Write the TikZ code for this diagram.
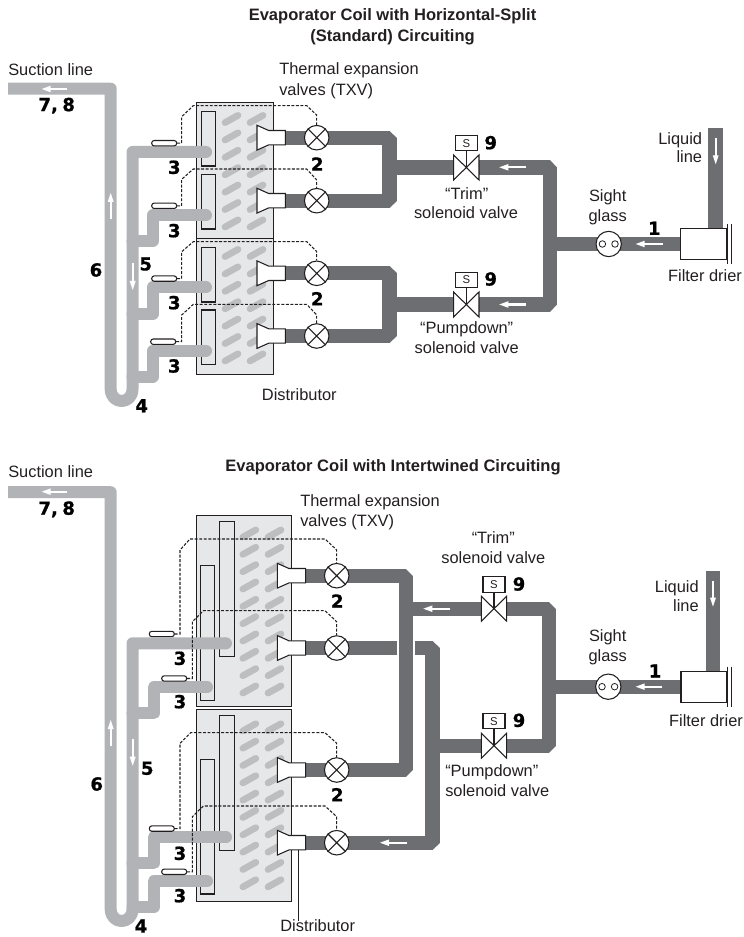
\documentclass[tikz,border=0pt]{standalone}
\usepackage{fontspec}
\setmainfont{Liberation Sans}
\newfontfamily\numfont[BoldFeatures={FakeBold=0.8}]{DejaVu Sans}
\usetikzlibrary{calc}
\definecolor{ink}{HTML}{231F20}
\definecolor{coilgray}{HTML}{E6E7E8}
\definecolor{fingray}{HTML}{BCBEC0}
\definecolor{suctgray}{HTML}{B1B3B6}
\definecolor{liqgray}{HTML}{6D6E71}
\tikzset{
  thinline/.style={draw=ink,line width=0.8pt},
  coil/.style={draw=ink,line width=0.7pt,fill=coilgray},
  header/.style={thinline,fill=coilgray},
  fin/.style={draw=fingray,line width=5pt,line cap=round},
  suct/.style={draw=suctgray,line width=9pt,line join=round},
  suctend/.style={suct,line cap=round},
  liq/.style={draw=liqgray,line width=10.7pt,line join=bevel},
  flowarrow/.style={draw=white,line width=1.7pt},
  flowhead/.style={fill=white},
  capillary/.style={draw=ink,dash pattern=on 2.2pt off 1.2pt,line width=0.8pt},
  lbl/.style={inner sep=0pt,text=ink,font=\fontsize{12.3pt}{14pt}\selectfont,text height=.72em,text depth=.2em},
  ttl/.style={inner sep=0pt,text=ink,font=\bfseries\fontsize{12.4pt}{14pt}\selectfont},
  num/.style={inner sep=0pt,text=black,font=\numfont\bfseries\fontsize{13.5pt}{14pt}\selectfont},
  bulb/.style={draw=ink,fill=white,line width=0.8pt,rounded corners=1.8pt,minimum width=18.7pt,minimum height=4pt,inner sep=0pt},
  valvec/.style={circle,draw=ink,fill=white,line width=0.8pt,minimum size=18.4pt,inner sep=0pt},
  sightc/.style={circle,draw=ink,fill=white,line width=0.8pt,minimum size=19pt,inner sep=0pt},
  eye/.style={circle,draw=ink,line width=0.6pt,minimum size=4.9pt,inner sep=0pt},
  sbox/.style={draw=ink,fill=white,line width=0.8pt,minimum width=16.5pt,minimum height=11.5pt,inner sep=0pt,text=ink,font=\fontsize{8.5pt}{9pt}\selectfont},
  filt/.style={draw=ink,fill=white,line width=0.8pt,minimum width=34.2pt,minimum height=22.9pt,inner sep=0pt}
}
% TXV valve: name, x, y
\newcommand\txv[3]{\node[valvec] (#1) at (#2,#3) {};
  \draw[thinline] (#1.45)--(#1.225) (#1.135)--(#1.315);}
% distributor: flare x, y
\newcommand\distr[2]{\begin{scope}[shift={(#1,#2)}]
  \draw[thinline,fill=white] (0,-12.4)--(11.7,-7.2)--(28.3,-7.2)--(28.3,7.2)--(11.7,7.2)--(0,12.4)--cycle;
  \end{scope}}
% solenoid: name, x, y, box y
\newcommand\sol[4]{\node[sbox] (#1box) at (#2,#4) {S};
  \coordinate (#1) at (#2,#3);
  \begin{scope}[shift={(#2,#3)}]
  \fill[white] (-12.7,-7.6) rectangle (12.7,7.6);
  \draw[thinline] (-12.7,-12.5)--(-12.7,12.5)--(12.7,-12.5)--(12.7,12.5)--cycle;
  \end{scope}
  \draw[thinline] (#1box.south)--(#1);}
% flow arrows
\newcommand\flowH[3]{\draw[flowarrow] (#1,#3)--(#2+6,#3);
  \fill[flowhead] (#2,#3)--(#2+9,#3-3.3)--(#2+9,#3+3.3)--cycle;}
\newcommand\flowV[3]{\draw[flowarrow] (#1,#2)--(#1,#3+6);
  \fill[flowhead] (#1,#3)--(#1-3,#3+9)--(#1+3,#3+9)--cycle;}
\newcommand\flowD[3]{\draw[flowarrow] (#1,#2)--(#1,#3-6);
  \fill[flowhead] (#1,#3)--(#1-3,#3-9)--(#1+3,#3-9)--cycle;}
\begin{document}
\begin{tikzpicture}[x=0.75pt,y=-0.75pt]
\useasboundingbox (0,0) rectangle (743,937);
% ===== titles
\node[ttl] (t1) at (392.5,16.5) {Evaporator Coil with Horizontal-Split};
\node[ttl] (t2) at (392.5,37.5) {(Standard) Circuiting};
\node[ttl] (t3) at (393,467) {Evaporator Coil with Intertwined Circuiting};

% ===== TOP DIAGRAM
\draw[coil] (196.3,102) rectangle (273.3,238);
\draw[coil] (196.3,238) rectangle (273.3,374);
\foreach \y in {119,136.4,...,224}{
  \draw[fin] (225,\y+3.6)--(238,\y-3.6);
  \draw[fin] (250,\y+3.6)--(263,\y-3.6);}
\foreach \y in {253,270.4,...,358}{
  \draw[fin] (225,\y+3.6)--(238,\y-3.6);
  \draw[fin] (250,\y+3.6)--(263,\y-3.6);}
\draw[header] (201.3,111.3) rectangle (215.7,166);
\draw[header] (201.3,174.3) rectangle (215.7,229);
\draw[header] (201.3,247.3) rectangle (215.7,302);
\draw[header] (201.3,310) rectangle (215.7,364.7);
% suction piping
\draw[suct] (8,88.7)--(110.7,88.7)--(110.7,389) .. controls (110.7,405) and (132.5,405) .. (132.5,389)--(132.5,152)--(206,152);
\fill[suctgray] (206,152) circle (6);
\draw[suctend] (132.5,241)--(152.7,241)--(152.7,215.5)--(206,215.5);
\draw[suctend] (132.5,314)--(152.7,314)--(152.7,287.5)--(206,287.5);
\draw[suctend] (132.5,376.7)--(152.7,376.7)--(152.7,350.7)--(206,350.7);
% liquid piping
\coordinate (sjA) at (397,167.5);
\coordinate (sjB) at (397,304.5);
\coordinate (mainT) at (549.8,244);
\draw[liq] (285,137.7)--(389.5,137.7)--(389.5,200.7)--(285,200.7);
\draw[liq] (285,273.3)--(389.5,273.3)--(389.5,336)--(285,336);
\draw[liq] (sjA)--(549.8,167.5)--(549.8,304.5)--(sjB);
\draw[liq] (mainT)--(681,244);
\draw[liq] (715.5,128)--(715.5,229);
% distributors and valves
\distr{257}{137.7}\distr{257}{200.7}\distr{257}{273.3}\distr{257}{336}
\txv{va}{316.7}{137.7}\txv{vb}{316.7}{200.7}\txv{vc}{316.7}{273.3}\txv{vd}{316.7}{336}
% bulbs
\node[bulb] (ba) at (164.2,143.2) {};
\node[bulb] (bb) at (164.2,205.8) {};
\node[bulb] (bc) at (164.2,278.6) {};
\node[bulb] (bd) at (163.2,341.7) {};
% capillaries
\draw[capillary] (ba.east)--(181.7,143.2)--(181.7,116.7)--(193.3,105.7)--(306.7,105.7)--(316.7,115)--(va.north);
\draw[capillary] (bb.east)--(181.7,205.8)--(181.7,179.3)--(193.3,169)--(306.7,169)--(316.7,180)--(vb.north);
\draw[capillary] (bc.east)--(181.7,278.6)--(181.7,251.7)--(193.3,241.7)--(306.7,241.7)--(316.7,251.7)--(vc.north);
\draw[capillary] (bd.east)--(181.7,341.7)--(181.7,315)--(193.3,304.3)--(306.7,304.3)--(316.7,315)--(vd.north);
% solenoids
\sol{sa}{466.3}{167.5}{143.2}
\sol{sb}{466.3}{304.5}{280}
% sight glass
\node[sightc] (sg1) at (608.7,244) {};
\node[eye] (e1) at (602.4,244) {};
\node[eye] (e2) at (615,244) {};
% filter drier
\node[filt] (f1) at (703.3,244) {};
\draw[thinline] (727.7,224)--(727.7,264) (731.7,224)--(731.7,264);
% arrows
\flowH{66.7}{41.7}{89}
\flowV{110.7}{219}{193}
\flowD{132.7}{263}{290}
\flowH{525.7}{499.3}{167.3}
\flowH{525.7}{499.3}{304.5}
\flowH{663}{635.7}{244}
\flowD{715.7}{137.7}{164.3}
% labels
\node[lbl,anchor=west] (l1) at (8,71.7) {Suction line};
\node[lbl,anchor=west] (l2) at (279,71.5) {Thermal expansion};
\node[lbl,anchor=west] (l3) at (279,92) {valves (TXV)};
\node[lbl] (l4) at (299.3,396.7) {Distributor};
\node[lbl] (l5) at (466.7,195.7) {“Trim”};
\node[lbl] (l6) at (466,215.3) {solenoid valve};
\node[lbl] (l7) at (466.7,330) {“Pumpdown”};
\node[lbl] (l8) at (466.7,350) {solenoid valve};
\node[lbl] (l9) at (607.7,197.7) {Sight};
\node[lbl] (l10) at (607.7,217.7) {glass};
\node[lbl,anchor=east] (l11) at (702.3,140.7) {Liquid};
\node[lbl,anchor=east] (l12) at (702.3,159.5) {line};
\node[lbl] (l13) at (705,278.3) {Filter drier};
\node[num] (n1) at (56.7,105.7) {\spaceskip=.25em 7, 8};
\node[num] (n2) at (174.3,167.3) {3};
\node[num] (n3) at (174.3,230.7) {3};
\node[num] (n4) at (174.3,302.7) {3};
\node[num] (n5) at (174.3,366) {3};
\node[num] (n6) at (317.3,164) {2};
\node[num] (n7) at (317.3,298.7) {2};
\node[num] (n8) at (145.7,264) {5};
\node[num] (n9) at (96,270) {6};
\node[num] (n10) at (141.7,405.7) {4};
\node[num] (n11) at (490.7,142.7) {9};
\node[num] (n12) at (490.7,279) {9};
\node[num] (n13) at (654.3,228.3) {1};

% ===== BOTTOM DIAGRAM
\draw[coil] (196.3,515) rectangle (291.7,706.7);
\draw[coil] (196.3,709.3) rectangle (291.7,901);
\foreach \y in {533.5,550.83,...,692}{
  \draw[fin] (242.8,\y+3.6)--(255.8,\y-3.6);
  \draw[fin] (268,\y+3.6)--(281,\y-3.6);}
\foreach \y in {727.3,744.63,...,885}{
  \draw[fin] (242.8,\y+3.6)--(255.8,\y-3.6);
  \draw[fin] (268,\y+3.6)--(281,\y-3.6);}
\draw[header] (200.3,565.3) rectangle (214.7,700.3);
\draw[header] (219.7,521.3) rectangle (234.3,656.3);
\draw[header] (200.3,759.3) rectangle (214.7,894);
\draw[header] (219.7,715.7) rectangle (234.3,850.3);
% suction piping
\draw[suct] (8,492.2)--(110.7,492.2)--(110.7,909) .. controls (110.7,925) and (132.5,925) .. (132.5,909)--(132.5,643.3)--(226,643.3);
\fill[suctgray] (226,643.3) circle (6);
\draw[suctend] (132.5,713.3)--(153.7,713.3)--(153.7,687.3)--(207,687.3);
\draw[suctend] (132.5,863.3)--(153.7,863.3)--(153.7,837.3)--(226,837.3);
\draw[suctend] (132.5,907.2)--(153.7,907.2)--(153.7,881.2)--(207,881.2);
% liquid piping
\coordinate (sjC) at (406,608.7);
\coordinate (sjD) at (432.5,745.7);
\coordinate (mainU) at (549.3,686.7);
\draw[liq] (305,575.7)--(406,575.7)--(406,770)--(305,770);
\draw[liq] (305,648)--(396.7,648);
\draw[liq] (415,648)--(432.5,648)--(432.5,842.7)--(305,842.7);
\draw[liq] (sjC)--(549.3,608.7)--(549.3,745.7)--(sjD);
\draw[liq] (mainU)--(681,686.7);
\draw[liq] (713.3,571)--(713.3,672);
% distributors and valves
\distr{277.3}{575.7}\distr{277.3}{648}\distr{277.3}{770}\distr{277.3}{842.7}
\txv{ve}{336.7}{575.7}\txv{vf}{336.7}{648}\txv{vg}{336.7}{770}\txv{vh}{336.7}{842.7}
% bulbs
\node[bulb] (be) at (161.8,634) {};
\node[bulb] (bf) at (174.2,678.5) {};
\node[bulb] (bg) at (161.8,828.6) {};
\node[bulb] (bh) at (174.2,871.8) {};
% capillaries
\draw[capillary] (be.east)--(180,634)--(180,550)--(190,539)--(325,539)--(336.7,550)--(ve.north);
\draw[capillary] (bf.east)--(192.3,678.5)--(192.3,621.7)--(203.3,610.7)--(325,610.7)--(336.7,621.7)--(vf.north);
\draw[capillary] (bg.east)--(180,828.6)--(180,743.3)--(190.7,732.7)--(325,732.7)--(336.7,743.3)--(vg.north);
\draw[capillary] (bh.east)--(192.3,871.8)--(192.3,816.7)--(203.3,806)--(325,806)--(336.7,816.7)--(vh.north);
% solenoids
\sol{sc}{494}{608.7}{584.5}
\sol{sd}{494}{745.7}{721.2}
% sight glass
\node[sightc] (sg2) at (608.3,686.7) {};
\node[eye] (e3) at (602,686.7) {};
\node[eye] (e4) at (614.6,686.7) {};
% filter drier
\node[filt] (f2) at (703.8,687) {};
\draw[thinline] (727.7,666.7)--(727.7,707.3) (731.3,666.7)--(731.3,707.3);
% distributor leader
\coordinate (dl) at (298.3,850);
\node[lbl] (l14) at (317.7,928.3) {Distributor};
\draw[thinline] (dl)--(298.3,921);
% arrows
\flowH{66.7}{41.7}{491.7}
\flowV{110.7}{746}{720}
\flowD{132.7}{739}{765.7}
\flowH{450}{423.3}{608.7}
\flowH{407.3}{380}{842.7}
\flowH{662.3}{635.7}{686.7}
\flowD{713}{580.7}{606.7}
% labels
\node[lbl,anchor=west] (l15) at (8,474) {Suction line};
\node[lbl,anchor=west] (l16) at (300,502.7) {Thermal expansion};
\node[lbl,anchor=west] (l17) at (300,523.3) {valves (TXV)};
\node[lbl] (l18) at (493.3,540) {“Trim”};
\node[lbl] (l19) at (493.3,560) {solenoid valve};
\node[lbl,anchor=west] (l20) at (445,773.3) {“Pumpdown”};
\node[lbl,anchor=west] (l21) at (445,793.3) {solenoid valve};
\node[lbl] (l22) at (607.7,638.3) {Sight};
\node[lbl] (l23) at (607.7,658.3) {glass};
\node[lbl,anchor=east] (l24) at (699,588.7) {Liquid};
\node[lbl,anchor=east] (l25) at (699,608.3) {line};
\node[lbl] (l26) at (706,722.7) {Filter drier};
\node[num] (n14) at (56.7,509.3) {\spaceskip=.25em 7, 8};
\node[num] (n15) at (180,658.3) {3};
\node[num] (n16) at (180,701.7) {3};
\node[num] (n17) at (180,853.3) {3};
\node[num] (n18) at (180,895.7) {3};
\node[num] (n19) at (337.3,601) {2};
\node[num] (n20) at (337.3,794.7) {2};
\node[num] (n21) at (147.3,768.3) {5};
\node[num] (n22) at (96.7,784) {6};
\node[num] (n23) at (141,926) {4};
\node[num] (n24) at (519,584) {9};
\node[num] (n25) at (519,720.3) {9};
\node[num] (n26) at (655,671) {1};
\end{tikzpicture}
\end{document}
